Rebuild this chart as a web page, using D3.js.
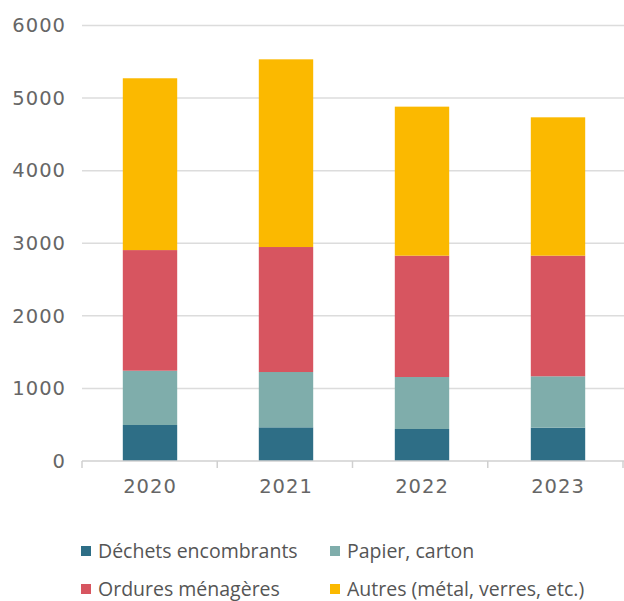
<!DOCTYPE html>
<html>
<head>
<meta charset="utf-8">
<script src="https://cdn.jsdelivr.net/npm/d3@7"></script>
<style>
  body { margin: 0; background: #fff; }
  text { font-family: "Open Sans", "Noto Sans", sans-serif; fill: #555; }
  .num { font-family: "DejaVu Sans", sans-serif; letter-spacing: 1px; fill: #666; }
</style>
</head>
<body>
<script>
// data
var years = ["2020", "2021", "2022", "2023"];
var series = ["Déchets encombrants", "Papier, carton", "Ordures ménagères", "Autres (métal, verres, etc.)"];
var dechets = [496, 464, 441, 459];
var papier = [748, 762, 716, 708];
var ordures = [1662, 1722, 1672, 1662];
var autres = [2367, 2586, 2053, 1906];
var colors = ["#2e6e86", "#7fadab", "#d75560", "#fbb900"];
var yTicks = [0, 1000, 2000, 3000, 4000, 5000, 6000];

var width = 624, height = 601;
var left = 82;

var data = years.map(function(y, i) {
  return { year: y, s0: dechets[i], s1: papier[i], s2: ordures[i], s3: autres[i] };
});
var keys = ["s0", "s1", "s2", "s3"];
var stacked = d3.stack().keys(keys)(data);

var svg = d3.select("body").append("svg")
  .attr("width", width)
  .attr("height", height);

var x = d3.scaleBand()
  .domain(years)
  .range([left, width + 2])
  .paddingInner(0.6)
  .paddingOuter(0.3);

var y = d3.scaleLinear()
  .domain([0, 6000])
  .range([461, 25.5]);

// gridlines
svg.append("g")
  .selectAll("line")
  .data(yTicks.filter(function(d) { return d > 0; }))
  .enter().append("line")
  .attr("x1", left)
  .attr("x2", width)
  .attr("y1", function(d) { return y(d); })
  .attr("y2", function(d) { return y(d); })
  .attr("stroke", "#dcdcdc")
  .attr("stroke-width", 1.5);

// y labels
svg.append("g")
  .selectAll("text")
  .data(yTicks)
  .enter().append("text")
  .attr("class", "num")
  .attr("x", 66)
  .attr("y", function(d) { return y(d); })
  .attr("dy", "0.35em")
  .attr("text-anchor", "end")
  .style("font-size", "19.5px")
  .text(function(d) { return d; });

// bars
svg.append("g")
  .selectAll("g")
  .data(stacked)
  .enter().append("g")
  .attr("fill", function(d, i) { return colors[i]; })
  .selectAll("rect")
  .data(function(d) { return d; })
  .enter().append("rect")
  .attr("x", function(d) { return x(d.data.year); })
  .attr("width", x.bandwidth())
  .attr("y", function(d) { return y(d[1]); })
  .attr("height", function(d) { return y(d[0]) - y(d[1]); });

// x axis
var xAxis = svg.append("g")
  .attr("transform", "translate(0,461)");
xAxis.append("line")
  .attr("x1", left)
  .attr("x2", width)
  .attr("stroke", "#d0d0d0")
  .attr("stroke-width", 1.5);
xAxis.selectAll(".tk")
  .data(d3.range(years.length + 1))
  .enter().append("line")
  .attr("class", "tk")
  .attr("x1", function(i) { return left + i * (width - 1 - left) / years.length; })
  .attr("x2", function(i) { return left + i * (width - 1 - left) / years.length; })
  .attr("y1", 0)
  .attr("y2", 7)
  .attr("stroke", "#d0d0d0")
  .attr("stroke-width", 1.5);
xAxis.selectAll("text")
  .data(years)
  .enter().append("text")
  .attr("class", "num")
  .attr("x", function(d) { return x(d) + x.bandwidth() / 2; })
  .attr("y", 25)
  .attr("dy", "0.35em")
  .attr("text-anchor", "middle")
  .style("font-size", "19.5px")
  .text(function(d) { return d; });

// legend
var legendPos = [[81, 551], [330, 551], [81, 589], [330, 589]];
var legend = svg.append("g")
  .selectAll("g")
  .data(series)
  .enter().append("g")
  .attr("transform", function(d, i) { return "translate(" + legendPos[i][0] + "," + legendPos[i][1] + ")"; });
legend.append("rect")
  .attr("x", 0)
  .attr("y", -5)
  .attr("width", 10)
  .attr("height", 10)
  .attr("fill", function(d, i) { return colors[i]; });
legend.append("text")
  .attr("x", 17)
  .attr("y", 0)
  .attr("dy", "0.35em")
  .style("font-size", "19.5px")
  .text(function(d) { return d; });
</script>
</body>
</html>
